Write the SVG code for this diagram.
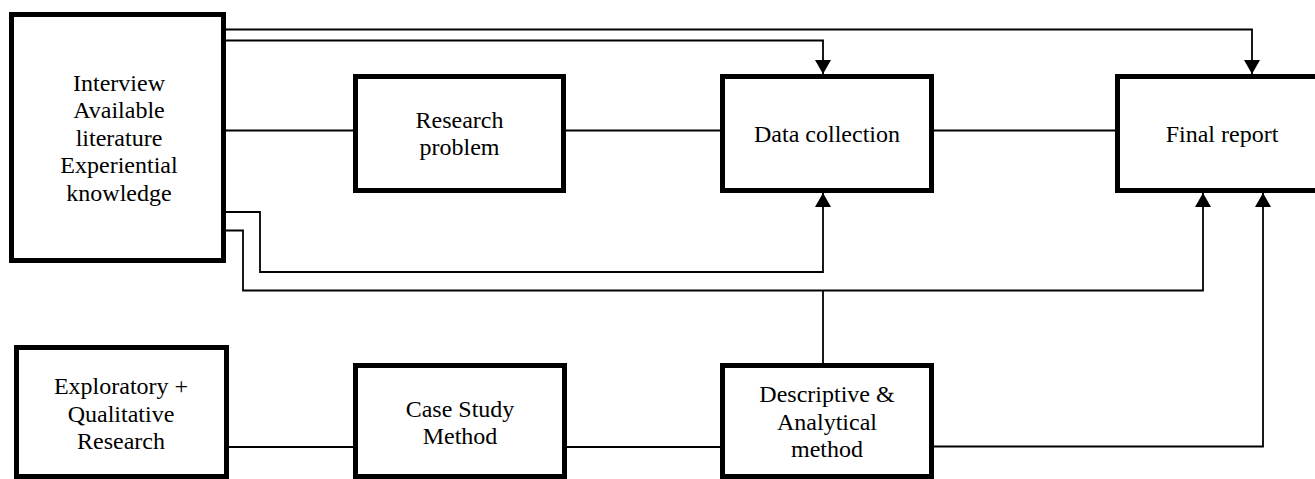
<svg xmlns="http://www.w3.org/2000/svg" width="1315" height="479" viewBox="0 0 1315 479">
<style>
.box{fill:#fff;stroke:#000;stroke-width:5}
.lbl{font-size:24px;fill:#000;text-anchor:middle}
.c{fill:none;stroke:#000;stroke-width:1.8}
.a{marker-end:url(#ah)}
</style>
<defs>
<marker id="ah" viewBox="0 0 14 16" refX="14" refY="8" markerWidth="14" markerHeight="16" markerUnits="userSpaceOnUse" orient="auto">
<path d="M0,0 L14,8 L0,16 z" fill="#000"/>
</marker>
</defs>
<rect width="1315" height="479" fill="#fff"/>
<g id="connectors">
<path class="c a" d="M226 29.5 H1252 V74"/>
<path class="c a" d="M226 40.5 H823 V74"/>
<path class="c" d="M226 130.5 H353"/>
<path class="c" d="M566 130.5 H720"/>
<path class="c" d="M934 130.5 H1115"/>
<path class="c a" d="M226 212 H260 V272 H823 V193"/>
<path class="c a" d="M226 230.5 H243 V290.5 H1203 V193"/>
<path class="c" d="M823 363 V290.5"/>
<path class="c" d="M229 447 H353"/>
<path class="c" d="M567 447 H720"/>
<path class="c a" d="M934 446.5 H1263 V193"/>
</g>
<g font-family="'Liberation Serif', 'DejaVu Serif', serif">
<g id="node-sources">
<rect class="box" x="11.5" y="14.5" width="212" height="246"/>
<text class="lbl"><tspan x="119" y="90.5">Interview</tspan><tspan x="119" y="118">Available</tspan><tspan x="119" y="145.5">literature</tspan><tspan x="119" y="173">Experiential</tspan><tspan x="119" y="200.5">knowledge</tspan></text>
</g>
<g id="node-research-problem">
<rect class="box" x="355.5" y="76.5" width="208" height="114"/>
<text class="lbl"><tspan x="459.5" y="127.5">Research</tspan><tspan x="459.5" y="155">problem</tspan></text>
</g>
<g id="node-data-collection">
<rect class="box" x="722.5" y="76.5" width="209" height="114"/>
<text class="lbl" x="827" y="141.5">Data collection</text>
</g>
<g id="node-final-report">
<rect class="box" x="1117.5" y="76.5" width="220" height="114"/>
<text class="lbl" x="1222" y="141.5">Final report</text>
</g>
<g id="node-exploratory">
<rect class="box" x="16.5" y="347.5" width="210" height="129"/>
<text class="lbl"><tspan x="121" y="394">Exploratory +</tspan><tspan x="121" y="421.5">Qualitative</tspan><tspan x="121" y="449">Research</tspan></text>
</g>
<g id="node-case-study">
<rect class="box" x="355.5" y="365.5" width="209" height="111"/>
<text class="lbl"><tspan x="460" y="416.5">Case Study</tspan><tspan x="460" y="444">Method</tspan></text>
</g>
<g id="node-descriptive">
<rect class="box" x="722.5" y="365.5" width="209" height="111"/>
<text class="lbl"><tspan x="827" y="402">Descriptive &amp;</tspan><tspan x="827" y="429.5">Analytical</tspan><tspan x="827" y="457">method</tspan></text>
</g>
</g>
</svg>
